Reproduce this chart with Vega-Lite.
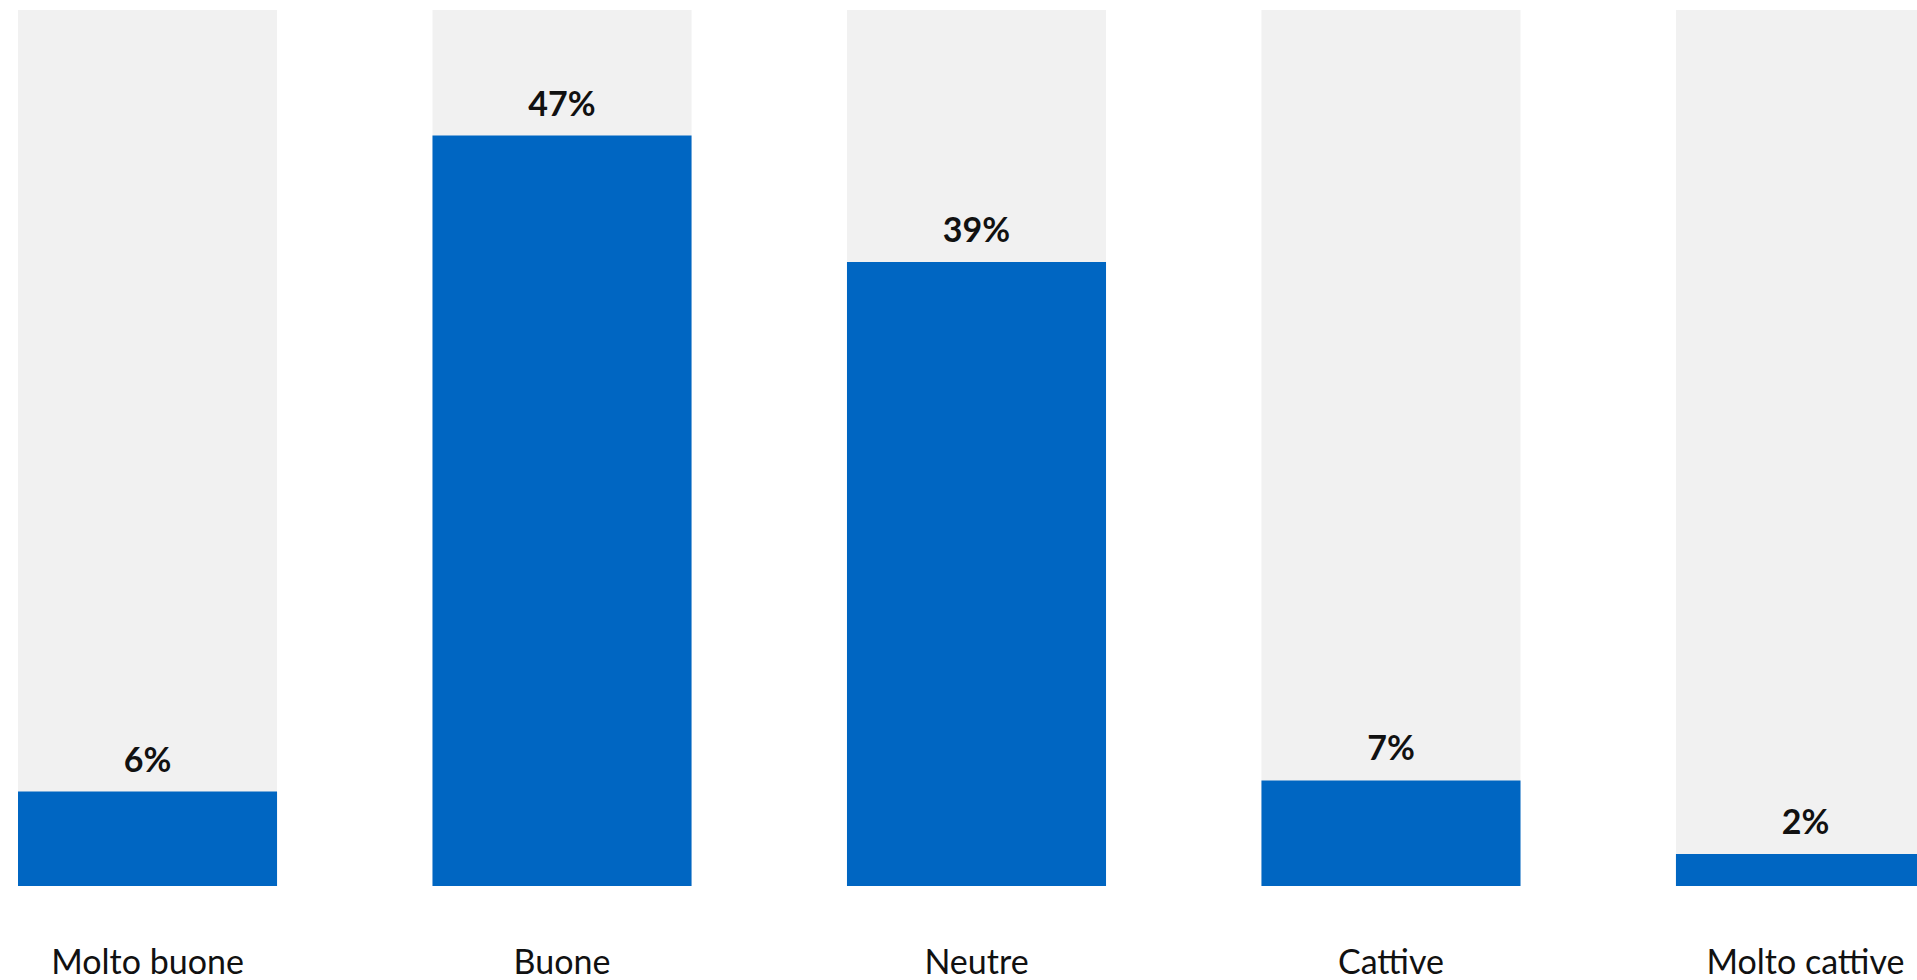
{
  "$schema": "https://vega.github.io/schema/vega-lite/v6.json",
  "width": 1917,
  "height": 876,
  "autosize": {"type": "none"},
  "padding": {"top": 10, "left": 0, "right": 0, "bottom": 94},
  "background": "#ffffff",
  "config": {"view": {"stroke": null}, "font": "Lato"},
  "data": {
    "values": [
      {"categoria": "Molto buone", "valore": 5.9, "etichetta": "6%"},
      {"categoria": "Buone", "valore": 46.9, "etichetta": "47%"},
      {"categoria": "Neutre", "valore": 39.0, "etichetta": "39%"},
      {"categoria": "Cattive", "valore": 6.6, "etichetta": "7%"},
      {"categoria": "Molto cattive", "valore": 2.0, "etichetta": "2%"}
    ]
  },
  "encoding": {
    "x": {
      "field": "categoria",
      "type": "nominal",
      "sort": null,
      "scale": {"range": [18, 1935], "paddingInner": 0.375, "paddingOuter": 0},
      "axis": {
        "title": null,
        "domain": false,
        "ticks": false,
        "labelAngle": 0,
        "labelFont": "Lato",
        "labelFontSize": 34,
        "labelColor": "#111111",
        "labelBaseline": "alphabetic",
        "labelPadding": 87,
        "labelOverlap": false,
        "labelBound": false,
        "labelFlush": false,
        "labelLimit": 0
      }
    }
  },
  "layer": [
    {
      "mark": {"type": "bar", "color": "#f1f1f1"},
      "encoding": {
        "y": {"datum": 54.75, "type": "quantitative", "scale": {"domain": [0, 54.75], "nice": false, "zero": true}, "axis": null}
      }
    },
    {
      "mark": {"type": "bar", "color": "#0066c2"},
      "encoding": {
        "y": {"field": "valore", "type": "quantitative", "scale": {"domain": [0, 54.75], "nice": false}, "axis": null}
      }
    },
    {
      "mark": {"type": "text", "font": "Lato", "fontSize": 34, "fontWeight": "bold", "color": "#111111", "baseline": "alphabetic", "align": "center", "dy": -20},
      "encoding": {
        "y": {"field": "valore", "type": "quantitative", "scale": {"domain": [0, 54.75], "nice": false}, "axis": null},
        "text": {"field": "etichetta", "type": "nominal"}
      }
    }
  ]
}
